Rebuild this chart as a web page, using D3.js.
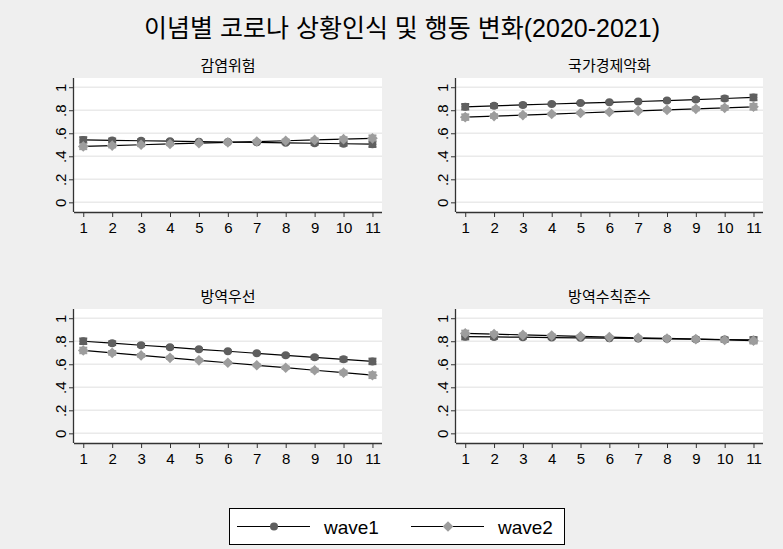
<!DOCTYPE html>
<html>
<head>
<meta charset="utf-8">
<script src="https://cdn.jsdelivr.net/npm/d3@7"></script>
<style>
  html, body { margin: 0; padding: 0; background: #efefef; }
  svg { display: block; }
  text { font-family: "Liberation Sans", Arial, "Noto Sans CJK KR", sans-serif; fill: #000; }
</style>
</head>
<body>
<svg id="chart" width="783" height="549"></svg>
<script>
// Ideology scale (1 = most progressive ... 11 = most conservative)
const ideology = [1, 2, 3, 4, 5, 6, 7, 8, 9, 10, 11];
const yTicks = [0, 0.2, 0.4, 0.6, 0.8, 1];
const yTickLabels = ["0", ".2", ".4", ".6", ".8", "1"];
const panelTitles = ["감염위험", "국가경제악화", "방역우선", "방역수칙준수"];
const seriesNames = ["wave1", "wave2"];

// Predicted margins per panel, wave 1 (2020)
const wave1Infection = [0.542, 0.538, 0.535, 0.531, 0.527, 0.524, 0.521, 0.517, 0.513, 0.509, 0.505];
const wave1Economy   = [0.830, 0.838, 0.846, 0.854, 0.862, 0.869, 0.876, 0.884, 0.893, 0.902, 0.911];
const wave1Priority  = [0.800, 0.783, 0.765, 0.748, 0.730, 0.713, 0.695, 0.678, 0.660, 0.643, 0.625];
const wave1Comply    = [0.840, 0.837, 0.835, 0.832, 0.830, 0.827, 0.824, 0.821, 0.818, 0.815, 0.812];

// Predicted margins per panel, wave 2 (2021)
const wave2Infection = [0.486, 0.493, 0.500, 0.507, 0.514, 0.521, 0.528, 0.535, 0.542, 0.549, 0.556];
const wave2Economy   = [0.740, 0.749, 0.758, 0.767, 0.776, 0.785, 0.794, 0.803, 0.812, 0.821, 0.830];
const wave2Priority  = [0.720, 0.699, 0.677, 0.656, 0.634, 0.613, 0.591, 0.570, 0.548, 0.527, 0.505];
const wave2Comply    = [0.868, 0.862, 0.855, 0.849, 0.843, 0.836, 0.830, 0.824, 0.818, 0.811, 0.805];

// 95% confidence interval half-widths (wider at the scale extremes)
const ciWave1 = [0.024, 0.016, 0.012, 0.010, 0.008, 0.007, 0.008, 0.010, 0.013, 0.017, 0.024];
const ciWave2 = [0.024, 0.016, 0.012, 0.010, 0.008, 0.007, 0.008, 0.010, 0.013, 0.017, 0.025];

const panelWave1 = [wave1Infection, wave1Economy, wave1Priority, wave1Comply];
const panelWave2 = [wave2Infection, wave2Economy, wave2Priority, wave2Comply];

const svg = d3.select("#chart");

const colW1 = "#5f5f5f";
const colW2 = "#9d9d9d";
const latin = "Liberation Sans, Arial, sans-serif";

// Main title
svg.append("text")
  .attr("x", 402).attr("y", 37)
  .attr("text-anchor", "middle")
  .style("font-size", "25px")
  .text("이념별 코로나 상황인식 및 행동 변화(2020-2021)");

// Plot region of each panel
const panels = [
  { left: 74,  right: 382, top: 78,  bottom: 212 },
  { left: 456, right: 763, top: 78,  bottom: 212 },
  { left: 74,  right: 382, top: 309, bottom: 443 },
  { left: 456, right: 763, top: 309, bottom: 443 }
];

const diamond = d3.symbol().type(d3.symbolDiamond2).size(72);

panels.forEach((p, i) => {
  const g = svg.append("g");
  const w = p.right - p.left;
  const x = d3.scaleLinear().domain([0.68, 11.33]).range([p.left, p.right]);
  const y = d3.scaleLinear().domain([-0.084, 1.08]).range([p.bottom, p.top]);

  // white plot region
  g.append("rect")
    .attr("x", p.left).attr("y", p.top)
    .attr("width", w).attr("height", p.bottom - p.top)
    .attr("fill", "#fff");

  // gridlines
  g.selectAll("line.grid").data(yTicks).join("line")
    .attr("x1", p.left).attr("x2", p.right)
    .attr("y1", d => y(d)).attr("y2", d => y(d))
    .attr("stroke", "#eaeaea").attr("stroke-width", 1.5);

  // panel title
  g.append("text")
    .attr("x", (p.left + p.right) / 2).attr("y", p.top - 7)
    .attr("text-anchor", "middle")
    .style("font-size", "15px")
    .text(panelTitles[i]);

  // x axis
  const xAxis = d3.axisBottom(x).tickValues(ideology).tickSize(5).tickPadding(5).tickFormat(d3.format("d"));
  const xg = g.append("g").attr("transform", `translate(0,${p.bottom})`).call(xAxis);
  xg.select(".domain").attr("d", `M${p.left},0.5H${p.right}`).attr("stroke", "#333").attr("stroke-width", 1.3);
  xg.selectAll(".tick line").attr("stroke", "#333");
  xg.selectAll(".tick text").style("font-size", "15px").style("font-family", latin);

  // y axis, labels rotated to read upward
  const yAxis = d3.axisLeft(y).tickValues(yTicks).tickSize(5).tickFormat((d, k) => yTickLabels[k]);
  const yg = g.append("g").attr("transform", `translate(${p.left},0)`).call(yAxis);
  yg.select(".domain").attr("d", `M-0.5,${p.top}V${p.bottom}`).attr("stroke", "#333").attr("stroke-width", 1.3);
  yg.selectAll(".tick line").attr("stroke", "#333");
  yg.selectAll(".tick text")
    .attr("x", null).attr("dy", null)
    .attr("text-anchor", "middle")
    .attr("transform", "translate(-8,0) rotate(-90)")
    .style("font-size", "15px")
    .style("font-family", latin);

  const series = [
    { vals: panelWave1[i], ci: ciWave1, color: colW1, shape: "circle" },
    { vals: panelWave2[i], ci: ciWave2, color: colW2, shape: "diamond" }
  ];

  // confidence intervals
  series.forEach(s => {
    const cg = g.append("g");
    ideology.forEach((c, k) => {
      const lo = y(s.vals[k] - s.ci[k]), hi = y(s.vals[k] + s.ci[k]);
      cg.append("line").attr("x1", x(c)).attr("x2", x(c)).attr("y1", lo).attr("y2", hi)
        .attr("stroke", s.color).attr("stroke-width", 2);
      [lo, hi].forEach(v => cg.append("line")
        .attr("x1", x(c) - 4).attr("x2", x(c) + 4).attr("y1", v).attr("y2", v)
        .attr("stroke", s.color).attr("stroke-width", 2));
    });
  });

  // connecting lines and markers
  series.forEach(s => {
    const line = d3.line().x((d, k) => x(ideology[k])).y(d => y(d));
    g.append("path").datum(s.vals).attr("d", line)
      .attr("fill", "none").attr("stroke", "#000").attr("stroke-width", 1.2);
    if (s.shape === "circle") {
      g.selectAll(null).data(s.vals).join("circle")
        .attr("cx", (d, k) => x(ideology[k])).attr("cy", d => y(d))
        .attr("r", 4).attr("fill", s.color);
    } else {
      g.selectAll(null).data(s.vals).join("path")
        .attr("d", diamond)
        .attr("transform", (d, k) => `translate(${x(ideology[k])},${y(d)})`)
        .attr("fill", s.color);
    }
  });
});

// Legend
const lg = svg.append("g");
lg.append("rect").attr("x", 229.5).attr("y", 508.5).attr("width", 335).attr("height", 36)
  .attr("fill", "#fff").attr("stroke", "#000").attr("stroke-width", 1);
const legendItems = [
  { name: seriesNames[0], x0: 237, color: colW1, shape: "circle" },
  { name: seriesNames[1], x0: 411, color: colW2, shape: "diamond" }
];
legendItems.forEach(it => {
  const cy = 526.5;
  lg.append("line").attr("x1", it.x0).attr("x2", it.x0 + 73).attr("y1", cy).attr("y2", cy)
    .attr("stroke", "#000").attr("stroke-width", 1.2);
  if (it.shape === "circle") {
    lg.append("circle").attr("cx", it.x0 + 37).attr("cy", cy).attr("r", 4).attr("fill", it.color);
  } else {
    lg.append("path").attr("d", diamond).attr("transform", `translate(${it.x0 + 37},${cy})`).attr("fill", it.color);
  }
  lg.append("text").attr("x", it.x0 + 87).attr("y", cy + 7)
    .style("font-size", "19px").text(it.name);
});
</script>
</body>
</html>
